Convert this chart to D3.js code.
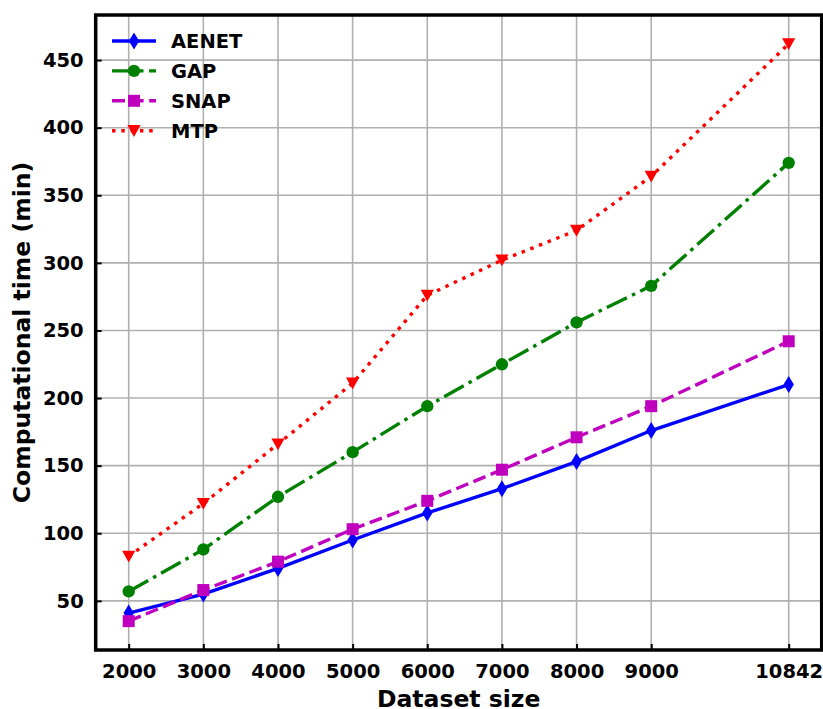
<!DOCTYPE html>
<html>
<head>
<meta charset="utf-8">
<script src="https://cdn.jsdelivr.net/npm/d3@7"></script>
<style>
  body { margin: 0; background: #fff; }
  text { font-family: "DejaVu Sans", sans-serif; font-weight: bold; }
</style>
</head>
<body>
<svg id="chart" width="823" height="709"></svg>
<script>
// Data
const sizes = [2000, 3000, 4000, 5000, 6000, 7000, 8000, 9000, 10842];
const aenet = [41, 55, 74, 95, 115, 133, 153, 176, 210];
const gap   = [57, 88, 127, 160, 194, 225, 256, 283, 374];
const snap  = [35, 58, 79, 103, 124, 147, 171, 194, 242];
const mtp   = [83, 122, 166, 211, 276, 302, 324, 364, 462];
const yTicks = [50, 100, 150, 200, 250, 300, 350, 400, 450];

const series = [
  { name: "AENET", values: aenet, color: "#0000ff", dash: null, marker: "thin_diamond" },
  { name: "GAP",   values: gap,   color: "#008000", dash: "22.4,5.6,3.5,5.6", marker: "circle" },
  { name: "SNAP",  values: snap,  color: "#bf00bf", dash: "13,5.6", marker: "square" },
  { name: "MTP",   values: mtp,   color: "#ff0000", dash: "3.5,5.8", marker: "triangle_down" }
];

const svg = d3.select("#chart");
const plot = { left: 95.7, right: 821.7, top: 15, bottom: 650 };
const lw = 3.4;

// matplotlib-like 5% margins
const pad = (ext) => { const r = ext[1] - ext[0]; return [ext[0] - 0.05 * r, ext[1] + 0.05 * r]; };
const allVals = series.flatMap(s => s.values);

const x = d3.scaleLinear().domain(pad(d3.extent(sizes))).range([plot.left, plot.right]);
const y = d3.scaleLinear().domain(pad(d3.extent(allVals))).range([plot.bottom, plot.top]);

// grid
const grid = svg.append("g").attr("stroke", "#b0b0b0").attr("stroke-width", 1.6);
grid.selectAll("line.gx").data(sizes).enter().append("line")
  .attr("x1", d => x(d)).attr("x2", d => x(d))
  .attr("y1", plot.top).attr("y2", plot.bottom);
grid.selectAll("line.gy").data(yTicks).enter().append("line")
  .attr("y1", d => y(d)).attr("y2", d => y(d))
  .attr("x1", plot.left).attr("x2", plot.right);

// marker shapes
function markerPath(type) {
  if (type === "thin_diamond") return "M0,-8.5L5.2,0L0,8.5L-5.2,0Z";
  if (type === "circle") return d3.symbol(d3.symbolCircle, 120)();
  if (type === "square") return "M-6,-6H6V6H-6Z";
  if (type === "triangle_down") return "M-6.6,-5.6H6.6L0,6.2Z";
}

const line = d3.line().x((d, i) => x(sizes[i])).y(d => y(d));

series.forEach(s => {
  const g = svg.append("g");
  g.append("path")
    .attr("d", line(s.values))
    .attr("fill", "none")
    .attr("stroke", s.color)
    .attr("stroke-width", lw)
    .attr("stroke-dasharray", s.dash);
  g.selectAll("path.m").data(s.values).enter().append("path")
    .attr("class", "m")
    .attr("d", markerPath(s.marker))
    .attr("transform", (d, i) => `translate(${x(sizes[i])},${y(d)})`)
    .attr("fill", s.color);
});

// x axis
const xAxis = d3.axisBottom(x).tickValues(sizes).tickFormat(d3.format("d"))
  .tickSizeInner(-6).tickSizeOuter(0).tickPadding(14);
const gx = svg.append("g").attr("transform", `translate(0,${plot.bottom})`).call(xAxis);
gx.select(".domain").remove();
gx.selectAll(".tick line").attr("stroke", "#000").attr("stroke-width", 2);
gx.selectAll(".tick text").attr("fill", "#000").attr("font-size", "19.5px")
  .attr("font-family", "DejaVu Sans").attr("font-weight", "bold");

// y axis
const yAxis = d3.axisLeft(y).tickValues(yTicks).tickSizeInner(-6).tickSizeOuter(0).tickPadding(12);
const gy = svg.append("g").attr("transform", `translate(${plot.left},0)`).call(yAxis);
gy.select(".domain").remove();
gy.selectAll(".tick line").attr("stroke", "#000").attr("stroke-width", 2);
gy.selectAll(".tick text").attr("fill", "#000").attr("font-size", "19.5px")
  .attr("font-family", "DejaVu Sans").attr("font-weight", "bold");

// frame
svg.append("rect")
  .attr("x", plot.left).attr("y", plot.top)
  .attr("width", plot.right - plot.left).attr("height", plot.bottom - plot.top)
  .attr("fill", "none").attr("stroke", "#000").attr("stroke-width", 3.5);

// axis labels
svg.append("text")
  .attr("x", (plot.left + plot.right) / 2).attr("y", 707)
  .attr("text-anchor", "middle").attr("font-size", "23.5px")
  .text("Dataset size");
svg.append("text")
  .attr("transform", `translate(30,${(plot.top + plot.bottom) / 2}) rotate(-90)`)
  .attr("text-anchor", "middle").attr("font-size", "23.5px")
  .text("Computational time (min)");

// legend
const legend = svg.append("g").attr("transform", "translate(112,41)");
series.forEach((s, i) => {
  const row = legend.append("g").attr("transform", `translate(0,${i * 29.9})`);
  row.append("line").attr("x1", 0).attr("x2", 44).attr("y1", 0).attr("y2", 0)
    .attr("stroke", s.color).attr("stroke-width", lw).attr("stroke-dasharray", s.dash);
  row.append("path").attr("d", markerPath(s.marker)).attr("transform", "translate(22,0)")
    .attr("fill", s.color);
  row.append("text").attr("x", 59).attr("y", 7).attr("font-size", "19.5px").text(s.name);
});
</script>
</body>
</html>
